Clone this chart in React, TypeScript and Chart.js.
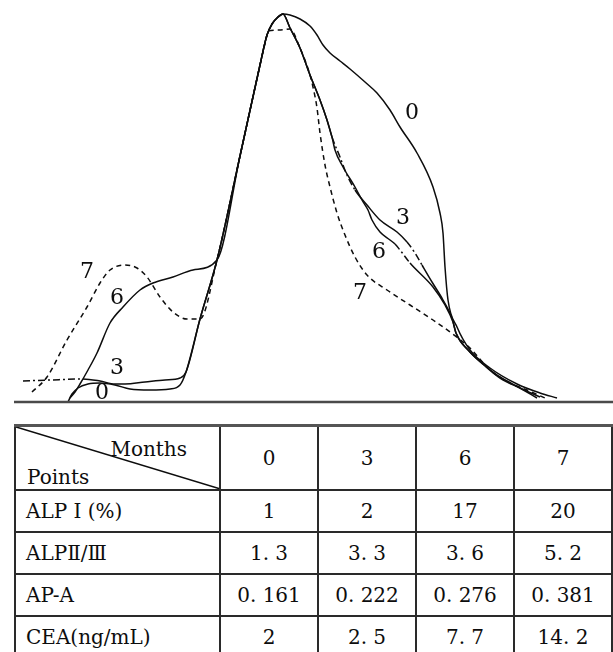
import React, { useEffect, useRef } from "react";
import { Chart, registerables } from "chart.js";

Chart.register(...registerables);

// ---- Densitometry curves (x = mobility units, y = absorbance units) ----
const curve0X = [68, 72, 78, 88, 100, 115, 130, 150, 170, 180, 186, 200, 217, 240, 260, 267, 272, 278, 283, 290, 300, 310, 317, 323, 330, 340, 350, 365, 377, 390, 400, 417, 433, 440, 443, 445, 448, 457, 470, 490, 517, 540, 557];
const curve0Y = [0, 8, 14, 18, 19, 17, 13, 12, 13, 17, 30, 83, 142, 246, 337, 367, 378, 385, 388, 387, 383, 376, 367, 357, 349, 341, 333, 320, 309, 292, 275, 249, 215, 189, 169, 135, 102, 75, 52, 34, 18, 9, 4];

const curve3X = [23, 50, 83, 100, 115, 125, 145, 165, 180, 186, 200, 217, 240, 260, 267, 272, 278, 283, 290, 300, 310, 320, 327, 332, 340, 347, 355, 367, 380, 397, 407, 415, 422, 432, 443, 452, 456, 470, 485, 500, 520, 540];
const curve3Y = [21, 22, 23, 21, 18, 18, 20, 22, 24, 30, 83, 142, 246, 337, 367, 378, 385, 388, 374, 354, 327, 302, 282, 265, 245, 227, 212, 197, 182, 170, 160, 149, 137, 120, 102, 84, 69, 50, 36, 24, 14, 5];

const curve6X = [70, 75, 80, 88, 97, 110, 123, 140, 153, 173, 193, 217, 240, 260, 267, 272, 278, 283, 290, 300, 310, 320, 327, 332, 335, 343, 355, 362, 368, 372, 380, 390, 395, 400, 410, 433, 445, 453, 456, 468, 483, 500, 520, 537];
const curve6Y = [4, 10, 18, 32, 49, 79, 95, 112, 119, 125, 132, 142, 246, 337, 367, 378, 385, 388, 374, 354, 327, 302, 282, 265, 252, 235, 215, 202, 192, 182, 170, 162, 158, 152, 139, 115, 97, 80, 69, 52, 38, 25, 14, 4];

const curve7X = [32, 47, 67, 87, 100, 110, 125, 137, 147, 160, 173, 187, 200, 217, 240, 260, 267, 268, 279, 290, 300, 310, 313, 317, 320, 325, 330, 337, 345, 355, 367, 387, 410, 433, 458, 470, 490, 510, 527, 545];
const curve7Y = [10, 25, 62, 95, 119, 132, 137, 134, 125, 105, 90, 83, 83, 142, 246, 337, 367, 371, 372, 373, 354, 327, 315, 294, 269, 237, 215, 189, 167, 145, 127, 112, 97, 82, 64, 54, 32, 19, 12, 4];

// x-ranges of the dash-dot stretches of curves 3 and 6
const curve3DashDot = [[23, 83], [332, 355], [407, 422]];
const curve6DashDot = [[395, 410]];

const baselineX = [14, 613];
const baselineY = [0, 0];

// curve labels
const labelText = ["0", "3", "6", "7", "7", "6", "3", "0"];
const labelX = [412, 403, 379, 360, 87, 117, 117, 102];
const labelY = [289, 184, 150, 109, 130, 104, 34, 9];

// ---- Table ----
const months = ["0", "3", "6", "7"];
const rowNames = ["ALP Ⅰ (%)", "ALPⅡ/Ⅲ", "AP-A", "CEA(ng/mL)"];
const alp1Values = ["1", "2", "17", "20"];
const alp23Values = ["1. 3", "3. 3", "3. 6", "5. 2"];
const apaValues = ["0. 161", "0. 222", "0. 276", "0. 381"];
const ceaValues = ["2", "2. 5", "7. 7", "14. 2"];
const tableRows = [alp1Values, alp23Values, apaValues, ceaValues];

const zip = (xs: number[], ys: number[]) => xs.map((x, i) => ({ x, y: ys[i] }));

const inRanges = (x: number, ranges: number[][]) =>
  ranges.some(([a, b]) => x >= a && x < b);

const DASH_DOT = [7, 3, 2, 3];
const INK = "#0d0d0d";
const SERIF = '"DejaVu Serif", "Liberation Serif", serif';

const labelPlugin = {
  id: "curveLabels",
  afterDatasetsDraw(chart: any) {
    const { ctx, scales } = chart;
    const xs = scales.x;
    const ys = scales.y;
    ctx.save();
    ctx.font = `22px ${SERIF}`;
    ctx.fillStyle = INK;
    ctx.textAlign = "center";
    ctx.textBaseline = "middle";
    labelText.forEach((t, i) => {
      ctx.fillText(t, xs.getPixelForValue(labelX[i]), ys.getPixelForValue(labelY[i]));
    });
    ctx.restore();
  },
};

function ChartCanvas() {
  const ref = useRef<HTMLCanvasElement | null>(null);
  useEffect(() => {
    if (!ref.current) return;
    const common = {
      borderColor: INK,
      borderWidth: 1.5,
      pointRadius: 0,
      fill: false,
      cubicInterpolationMode: "monotone" as const,
    };
    const chart = new Chart(ref.current, {
      type: "line",
      data: {
        datasets: [
          {
            label: "baseline",
            data: zip(baselineX, baselineY),
            borderColor: "#4a4a4a",
            borderWidth: 2.5,
            pointRadius: 0,
            fill: false,
          },
          { label: "0", data: zip(curve0X, curve0Y), ...common },
          {
            label: "3",
            data: zip(curve3X, curve3Y),
            ...common,
            segment: {
              borderDash: (c: any) => (inRanges(c.p0.parsed.x, curve3DashDot) ? DASH_DOT : undefined),
            },
          },
          {
            label: "6",
            data: zip(curve6X, curve6Y),
            ...common,
            segment: {
              borderDash: (c: any) => (inRanges(c.p0.parsed.x, curve6DashDot) ? DASH_DOT : undefined),
            },
          },
          { label: "7", data: zip(curve7X, curve7Y), ...common, borderDash: [5, 4] },
        ],
      },
      options: {
        animation: false,
        responsive: false,
        maintainAspectRatio: false,
        layout: { padding: 0 },
        plugins: { legend: { display: false }, tooltip: { enabled: false } },
        scales: {
          x: { type: "linear", min: 0, max: 613, display: false },
          y: { type: "linear", min: -8, max: 402, display: false },
        },
      },
      plugins: [labelPlugin],
    } as any);
    return () => chart.destroy();
  }, []);
  return (
    <canvas
      ref={ref}
      width={613}
      height={410}
      style={{ position: "absolute", left: 0, top: 0, width: 613, height: 410 }}
    />
  );
}

const cellBorder = "2px solid #2a2a2a";

function DataTable() {
  const td: React.CSSProperties = {
    border: cellBorder,
    textAlign: "center",
    verticalAlign: "middle",
    padding: 0,
    width: 98,
  };
  const nameTd: React.CSSProperties = {
    border: cellBorder,
    textAlign: "left",
    verticalAlign: "middle",
    padding: "0 0 0 10px",
    width: 205,
  };
  return (
    <table
      style={{
        position: "absolute",
        left: 14,
        top: 424,
        width: 598,
        borderCollapse: "collapse",
        tableLayout: "fixed",
        fontFamily: SERIF,
        fontSize: 20,
        color: INK,
      }}
    >
      <colgroup>
        <col style={{ width: 205 }} />
        {months.map((m) => (
          <col key={m} style={{ width: 98 }} />
        ))}
      </colgroup>
      <tbody>
        <tr style={{ height: 64 }}>
          <td style={{ ...nameTd, position: "relative", padding: 0, borderTop: "3px solid #555" }}>
            <svg
              style={{ position: "absolute", left: 0, top: 0, width: "100%", height: "100%" }}
              viewBox="0 0 100 100"
              preserveAspectRatio="none"
            >
              <line x1="0" y1="0" x2="100" y2="100" stroke={INK} strokeWidth={1.6} vectorEffect="non-scaling-stroke" />
            </svg>
            <span style={{ position: "absolute", right: 32, top: 10, lineHeight: "24px" }}>Months</span>
            <span style={{ position: "absolute", left: 11, top: 38, lineHeight: "24px" }}>Points</span>
          </td>
          {months.map((m) => (
            <td key={m} style={{ ...td, borderTop: "3px solid #555" }}>
              {m}
            </td>
          ))}
        </tr>
        {tableRows.map((row, r) => (
          <tr key={r} style={{ height: 42 }}>
            <td style={nameTd}>{rowNames[r]}</td>
            {row.map((v, c) => (
              <td key={c} style={td}>
                {v}
              </td>
            ))}
          </tr>
        ))}
      </tbody>
    </table>
  );
}

export default function App() {
  return (
    <div
      style={{
        position: "fixed",
        left: 0,
        top: 0,
        width: 613,
        height: 652,
        overflow: "hidden",
        background: "#fff",
      }}
    >
      <ChartCanvas />
      <DataTable />
    </div>
  );
}
